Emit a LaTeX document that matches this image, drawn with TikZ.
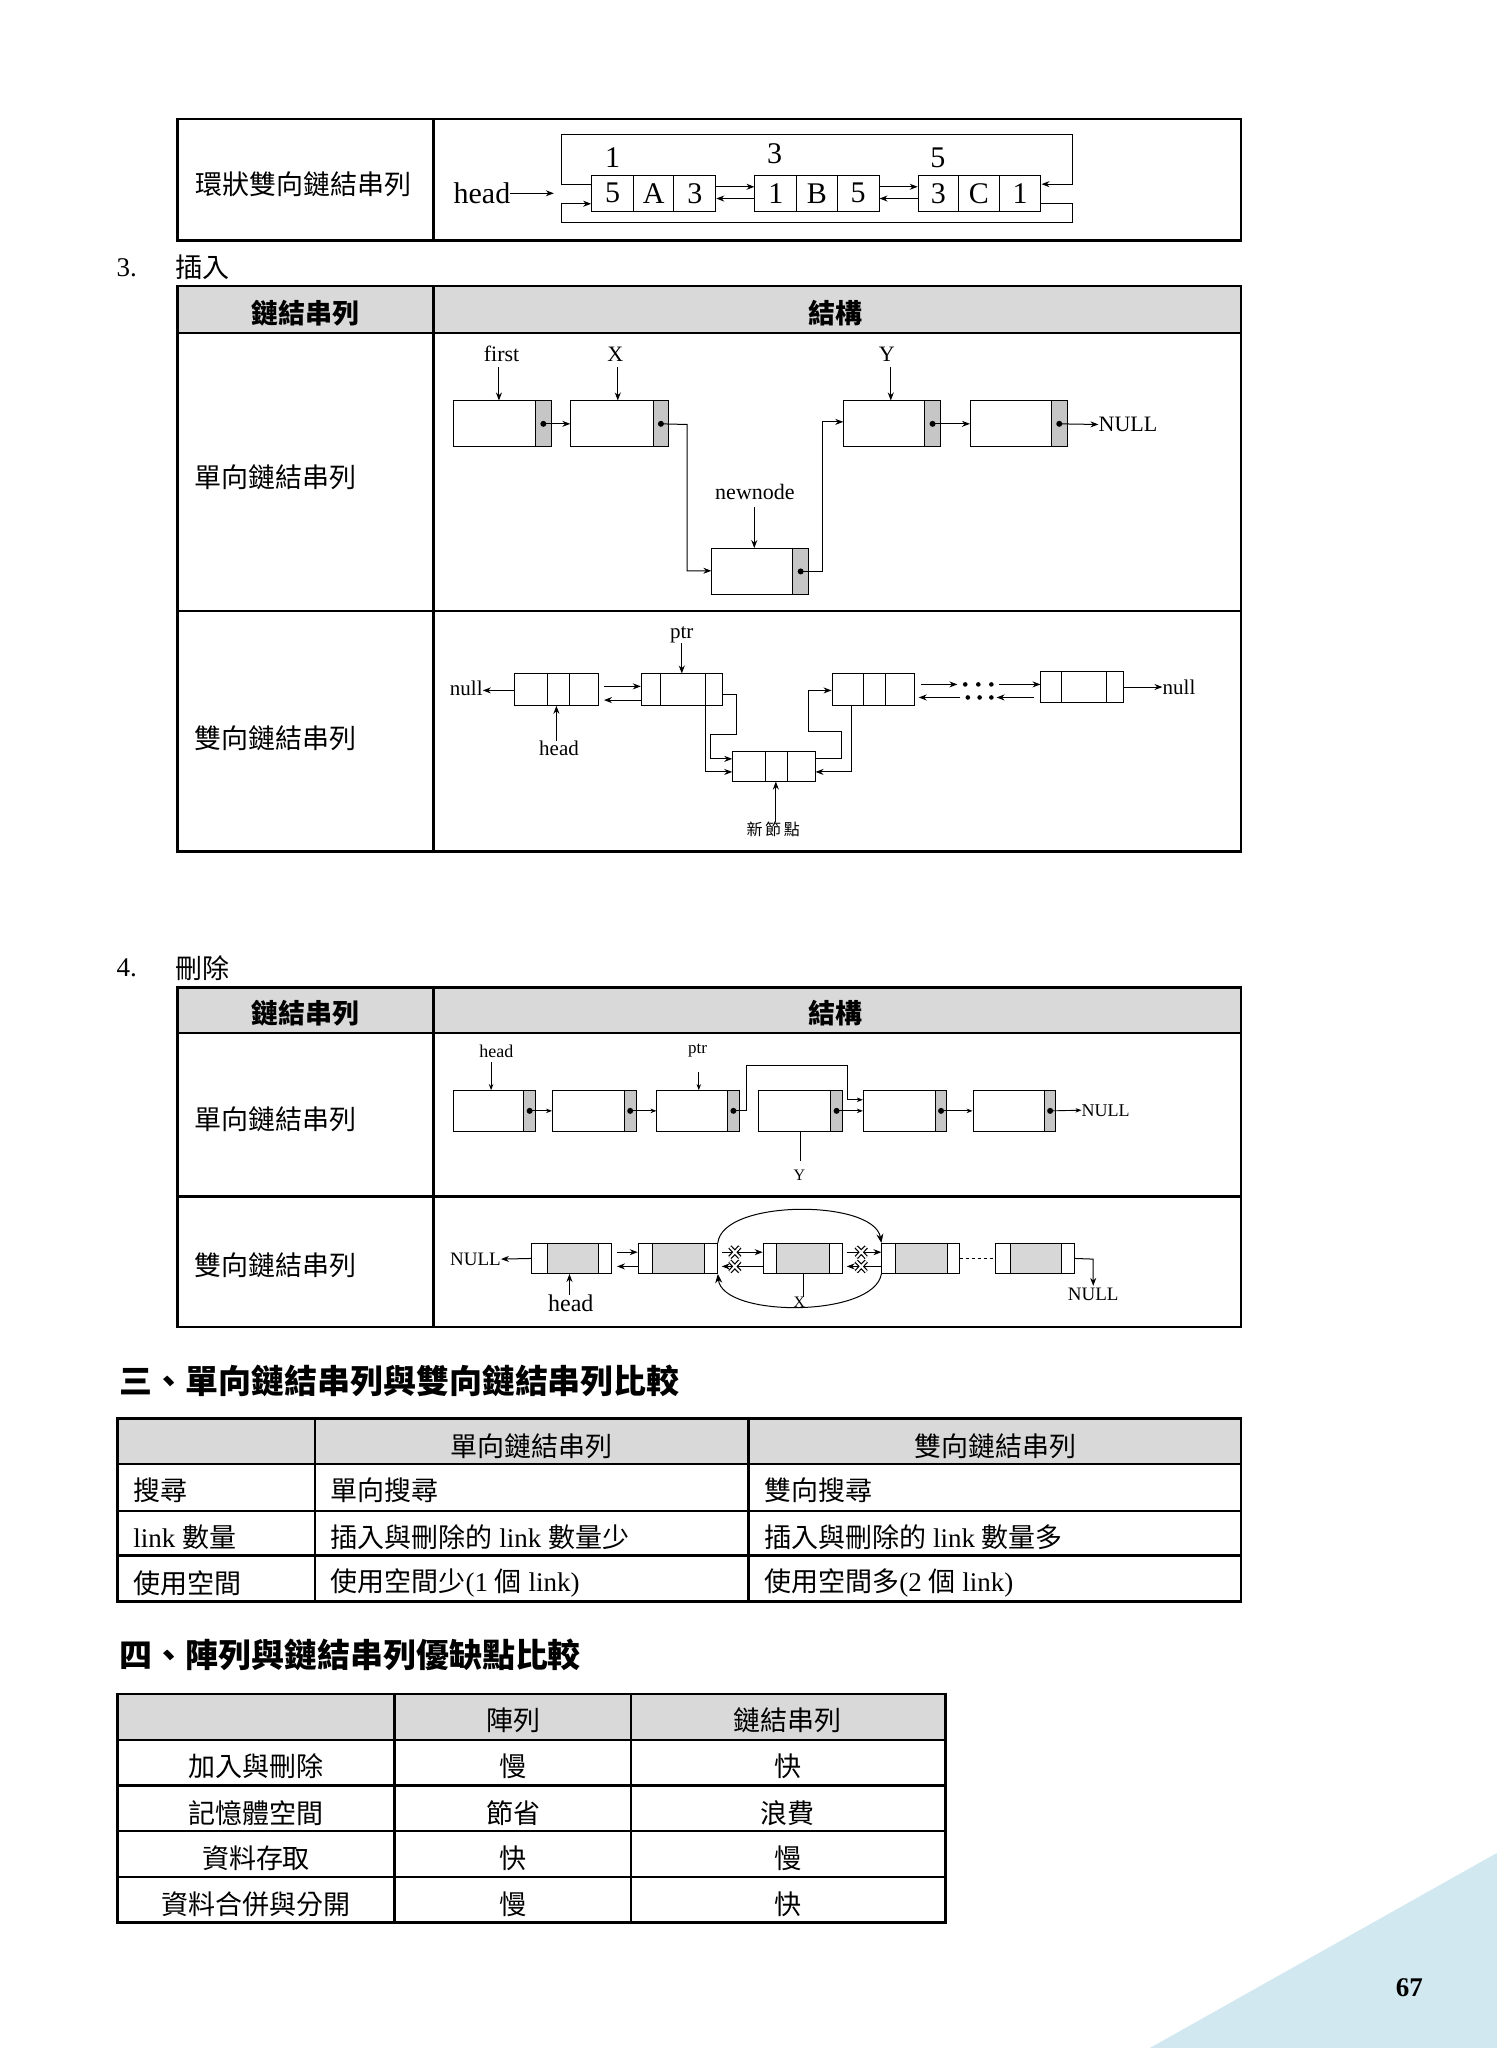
\documentclass[tikz,border=0pt]{standalone}
\usepackage{fontspec}
\setmainfont{Liberation Serif}
\newfontfamily\cjk{Noto Sans CJK TC}
\usetikzlibrary{arrows.meta,fit,calc}
\definecolor{hdrgray}{RGB}{217,217,217}
\definecolor{cellgray}{RGB}{215,215,215}
\definecolor{tri}{RGB}{209,232,240}
\newcommand\C[1]{{\cjk #1}}
% singly node: name x1 y1 x2 y2 xgray
\newcommand\snode[6]{%
  \node[box, fit={(#2,#3) (#4,#5)}] (#1) {};
  \fill[ptrgray] (#6,#3) rectangle (#4,#5);
  \draw[ln] (#6,#3) rectangle (#4,#5);
  \coordinate (#1-d) at ($(#6,#3)!0.5!(#4,#5)$);
  \fill (#1-d) circle[radius=3pt];}
% doubly node: name x1 y1 x2 y2 d1 d2
\newcommand\dcell[7]{%
  \node[box, fit={(#2,#3) (#4,#5)}] (#1) {};
  \draw[ln] (#6,#3) -- (#6,#5) (#7,#3) -- (#7,#5);}
\newcommand\gcell[7]{%
  \node[box, fit={(#2,#3) (#4,#5)}] (#1) {};
  \fill[cellgray] (#6,#3) rectangle (#7,#5);
  \draw[ln] (#2,#3) rectangle (#4,#5) (#6,#3) -- (#6,#5) (#7,#3) -- (#7,#5);}
\newcommand\xmk[2]{%
  \draw[line width=4.4pt] (#1-3.8,#2-4) -- (#1+3.8,#2+4) (#1-3.8,#2+4) -- (#1+3.8,#2-4);
  \draw[white,line width=2pt] (#1-3.8,#2-4) -- (#1+3.8,#2+4) (#1-3.8,#2+4) -- (#1+3.8,#2-4);}
\begin{document}
\begin{tikzpicture}[x=1.3063pt,y=-1.3063pt,
  tbl/.style={line width=2.4pt},
  box/.style={draw, line width=1pt, inner sep=0pt},
  ln/.style={line width=1pt},
  ptrgray/.style={fill=gray!45},
  arr/.style={line width=1pt,-{Stealth[length=8pt,width=6pt]}},
  sarr/.style={line width=0.9pt,-{Stealth[length=6pt,width=4.5pt]}},
  lab/.style={font=\cjk\fontsize{27}{29}\selectfont, inner sep=0pt},
  hdr/.style={font=\cjk\bfseries\fontsize{27}{29}\selectfont, inner sep=0pt},
  ttl/.style={font=\cjk\bfseries\fontsize{33}{35}\selectfont, inner sep=0pt, anchor=west},
  txt/.style={font=\fontsize{27}{29}\selectfont, inner sep=0pt},
  tt/.style={font=\fontsize{#1}{#1}\selectfont, inner sep=0pt},
]
\fill[white] (0,0) rectangle (1146,1568);
\useasboundingbox (0,0) rectangle (1146,1568);
\fill[tri] (880.3,1568) -- (1146,1418.7) -- (1146,1568) -- cycle;
\node[font=\bfseries\fontsize{27}{29}\selectfont] (pg) at (1079,1522) {67};

% ===== top table =====
\draw[tbl] (136,91) rectangle (950,184) (332,91) -- (332,184);
\node[lab] (t0l) at (232,141) {環狀雙向鏈結串列};
\node[tt=30] (hd) at (369,148) {head};
\coordinate (hdend) at (424,148);
\draw[arr] (hd.east) -- (hdend);
\dcell{c1}{453}{134}{548}{162}{485}{516}
\dcell{c2}{578}{134}{673}{162}{610}{641}
\dcell{c3}{703}{134}{797}{162}{734}{765}
\node[tt=30] (c1a) at (469,148) {5};
\node[tt=30] (c1b) at (500.5,148) {A};
\node[tt=30] (c1c) at (532,148) {3};
\node[tt=30] (c2a) at (594,148) {1};
\node[tt=30] (c2b) at (625.5,148) {B};
\node[tt=30] (c2c) at (657,148) {5};
\node[tt=30] (c3a) at (718.5,148) {3};
\node[tt=30] (c3b) at (749.5,148) {C};
\node[tt=30] (c3c) at (781,148) {1};
\node[tt=30] (c1n) at (469,121) {1};
\node[tt=30] (c2n) at (593,118) {3};
\node[tt=30] (c3n) at (718,121) {5};
\draw[arr] (c1.east |- 0,143) -- (c2.west |- 0,143);
\draw[arr] (c2.west |- 0,152) -- (c1.east |- 0,152);
\draw[arr] (c2.east |- 0,143) -- (c3.west |- 0,143);
\draw[arr] (c3.west |- 0,152) -- (c2.east |- 0,152);
\draw[arr] (c1.west |- 0,141) -- (430,141) -- (430,103) -- (821,103) -- (821,141) -- (c3.east |- 0,141);
\draw[arr] (c3.east |- 0,156) -- (821,156) -- (821,170) -- (430,170) -- (430,156) -- (c1.west |- 0,156);

% ===== 3. insert =====
\node[txt] (n3) at (97,205) {3.};
\node[lab] (n3t) at (155,205) {插入};
\fill[hdrgray] (136,219) rectangle (950,255);
\draw[tbl] (136,219) rectangle (950,652) (136,255) -- (950,255) (136,468) -- (950,468) (332,219) -- (332,652);
\node[hdr] (h1a) at (234,240) {鏈結串列};
\node[hdr] (h1b) at (640,240) {結構};
\node[lab] (r1a) at (211,365) {單向鏈結串列};
\node[lab] (r1b) at (211,565) {雙向鏈結串列};

% singly insert
\snode{sa}{347}{307}{422}{342}{410}
\snode{sb}{437}{307}{512}{342}{500}
\snode{sn}{545}{420}{619}{455}{607}
\snode{sc}{646}{307}{720}{342}{708}
\snode{sd}{743}{307}{817}{342}{805}
\draw[arr] (sa-d) -- (sb.west |- sa-d);
\draw[arr] (sb-d) -- (526,325) -- (526,437) -- (sn.west |- 0,437);
\draw[arr] (sn-d) -- (630,437.5) -- (630,323) -- (sc.west |- 0,323);
\draw[arr] (sc-d) -- (sd.west |- sc-d);
\node[tt=22, anchor=west] (snull) at (841,325) {NULL};
\draw[arr] (sd-d) -- (snull.west);
\node[tt=22] (lf) at (384,271) {first};
\node[tt=22] (lx) at (471,271) {X};
\node[tt=22] (ly) at (679,271) {Y};
\node[tt=22] (lnew) at (578,377) {newnode};
\draw[arr] (382,281) -- (sa.north -| 382,0);
\draw[arr] (473,281) -- (sb.north -| 473,0);
\draw[arr] (682,281) -- (sc.north -| 682,0);
\draw[arr] (577.5,388) -- (sn.north -| 577.5,0);

% doubly insert
\dcell{da}{394}{516}{458}{540}{419}{436}
\dcell{db}{491}{516}{553}{540}{506}{540}
\dcell{dc}{637}{516}{700}{540}{661}{678}
\dcell{dd}{797}{514}{860}{538}{813}{847}
\dcell{dn}{561}{575}{624}{598}{586}{603}
\node[tt=21] (nl) at (357,527) {null};
\draw[arr] (da.west |- 0,528.6) -- (nl.east |- 0,528.6);
\draw[arr] ($(da.east |- 0,525.5)+(4,0)$) -- (db.west |- 0,525.5);
\draw[arr] (db.west |- 0,536) -- ($(da.east |- 0,536)+(4,0)$);
\node[tt=21] (dhead) at (428,573) {head};
\draw[arr] (dhead.north -| 426,0) -- (da.south -| 426,0);
\node[tt=21] (dptr) at (522,486) {ptr};
\draw[arr] (dptr.south) -- (dptr.south |- db.north);
\draw[arr] (db.east |- 0,532) -- (564,532) -- (564,562) -- (544,562) -- (544,581) -- (dn.west |- 0,581);
\draw[arr] (db.south -| 540,0) -- (540,591) -- (dn.west |- 0,591);
\draw[arr] (dc.south -| 652,0) -- (652,591) -- (dn.east |- 0,591);
\draw[arr] (dn.east |- 0,581) -- (644,581) -- (644,560) -- (619,560) -- (619,528.6) -- (dc.west |- 0,528.6);
\draw[arr] ($(dc.east |- 0,524)+(5,0)$) -- (733,524);
\draw[arr] (765,524) -- (dd.west |- 0,524);
\draw[arr] ($(dd.west |- 0,534)+(-5,0)$) -- (763,534);
\draw[arr] (735,534) -- ($(dc.east |- 0,534)+(3,0)$);
\foreach \xx in {739,749,759} \fill (\xx,524) circle[radius=2.3pt];
\foreach \xx in {741,750,759} \fill (\xx,534) circle[radius=2.3pt];
\node[tt=21, anchor=west] (nr) at (890,526) {null};
\draw[arr] (dd.east |- 0,526) -- (nr.west);
\node[font=\cjk\fontsize{16}{18}\selectfont, inner sep=0pt] (xin) at (592,635) {新\,節\,點};
\draw[arr] (xin.north -| 594,0) -- (dn.south -| 594,0);

% ===== 4. delete =====
\node[txt] (n4) at (97,741) {4.};
\node[lab] (n4t) at (155,741) {刪除};
\fill[hdrgray] (136,756) rectangle (950,791);
\draw[tbl] (136,756) rectangle (950,1016) (136,791) -- (950,791) (136,916) -- (950,916) (332,756) -- (332,1016);
\node[hdr] (h2a) at (234,776) {鏈結串列};
\node[hdr] (h2b) at (640,776) {結構};
\node[lab] (r2a) at (211,857) {單向鏈結串列};
\node[lab] (r2b) at (211,969) {雙向鏈結串列};

% singly delete
\snode{ea}{347}{835}{410}{866}{401}
\snode{eb}{423}{835}{487}{866}{478}
\snode{ec}{503}{835}{566}{866}{557}
\snode{ed}{581}{835}{645}{866}{636}
\snode{ee}{661}{835}{725}{866}{716}
\snode{ef}{745}{835}{808}{866}{800}
\draw[sarr] (ea-d) -- (eb.west |- ea-d);
\draw[sarr] (eb-d) -- (ec.west |- eb-d);
\draw[sarr] (ec-d) -- (571.5,850.5) -- (571.5,816) -- (649,816) -- (649,842) -- (ee.west |- 0,842);
\draw[sarr] (ed-d) -- (ee.west |- ed-d);
\draw[sarr] (ee-d) -- (ef.west |- ee-d);
\node[tt=18, anchor=west] (enull) at (828,850) {NULL};
\draw[sarr] (ef-d) -- (enull.west);
\node[tt=18] (ehead) at (380,805) {head};
\draw[sarr] (376,813) -- (ea.north -| 376,0);
\node[tt=17] (eptr) at (534,804) {ptr};
\draw[sarr] (535,821) -- (ec.north -| 535,0);
\node[tt=16] (ey) at (612,900) {Y};
\draw[ln] (ed.south -| 613,0) -- (613,889);

% doubly delete
\gcell{fa}{407}{952}{468.5}{975}{419}{458.4}
\gcell{fb}{488.6}{952}{549.2}{975}{499.6}{539.2}
\gcell{fc}{584.3}{952}{644.9}{975}{594.8}{634.8}
\gcell{fd}{675.2}{952}{734.9}{975}{685.3}{725.7}
\gcell{fe}{762}{952}{822.6}{975}{773.3}{812.8}
\node[tt=19] (fnl) at (364,964) {NULL};
\draw[arr] (fa.west) -- (fnl.east);
\draw[arr] ($(fa.east |- 0,958.7)+(3.5,0)$) -- (fb.west |- 0,958.7);
\draw[arr] (fb.west |- 0,969.6) -- ($(fa.east |- 0,969.6)+(3.5,0)$);
\draw[arr] ($(fb.east |- 0,958.7)+(3,0)$) -- (fc.west |- 0,958.7);
\draw[arr] (fc.west |- 0,969.6) -- ($(fb.east |- 0,969.6)+(3,0)$);
\draw[arr] ($(fc.east |- 0,958.7)+(3,0)$) -- (fd.west |- 0,958.7);
\draw[arr] (fd.west |- 0,969.6) -- ($(fc.east |- 0,969.6)+(3,0)$);
\xmk{562.6}{958.7}
\xmk{562.6}{969.6}
\xmk{659.4}{958.7}
\xmk{659.4}{969.6}
\draw[ln, dashed] (fd.east) -- (fe.west);
\node[tt=19] (fnr) at (837,991) {NULL};
\draw[arr, shorten >=2pt] (fe.east) -- (837,964) -- (fnr.north);
\node[tt=24] (fhead) at (437,998) {head};
\draw[arr] (fhead.north -| 436,0) -- (fa.south -| 436,0);
\node[tt=16] (fx) at (612,997) {X};
\draw[ln] (fc.south -| 615,0) -- (fx.north -| 615,0);
\draw[line width=1pt,-{Stealth[length=9pt,width=7pt]}] (fb.north east) .. controls (553,918) and (669,918) .. (fd.north west);
\draw[line width=1pt,-{Stealth[length=9pt,width=7pt]}] (fd.south west) .. controls (669,1009) and (553,1009) .. (fb.south east);

% ===== section 3 =====
\node[ttl] (s3) at (91,1057) {三、單向鏈結串列與雙向鏈結串列比較};
\fill[hdrgray] (90,1086) rectangle (950,1121);
\draw[tbl] (90,1086) rectangle (950,1226) (90,1121) -- (950,1121) (90,1157) -- (950,1157) (90,1191) -- (950,1191) (241,1086) -- (241,1226) (573,1086) -- (573,1226);
\node[lab] (k1) at (407,1107) {單向鏈結串列};
\node[lab] (k2) at (762,1107) {雙向鏈結串列};
\node[txt, anchor=west] (k3) at (102,1141) {\C{搜尋}};
\node[txt, anchor=west] (k4) at (253,1141) {\C{單向搜尋}};
\node[txt, anchor=west] (k5) at (585,1141) {\C{雙向搜尋}};
\node[txt, anchor=west] (k6) at (102,1177) {link \C{數量}};
\node[txt, anchor=west] (k7) at (253,1177) {\C{插入與刪除的} link \C{數量少}};
\node[txt, anchor=west] (k8) at (585,1177) {\C{插入與刪除的} link \C{數量多}};
\node[txt, anchor=west] (k9) at (102,1212) {\C{使用空間}};
\node[txt, anchor=west] (k10) at (253,1212) {\C{使用空間少}(1 \C{個} link)};
\node[txt, anchor=west] (k11) at (585,1212) {\C{使用空間多}(2 \C{個} link)};

% ===== section 4 =====
\node[ttl] (s4) at (91,1267) {四、陣列與鏈結串列優缺點比較};
\fill[hdrgray] (90,1297) rectangle (724,1332);
\draw[tbl] (90,1297) rectangle (724,1472) (90,1332) -- (724,1332) (90,1367) -- (724,1367) (90,1402) -- (724,1402) (90,1437) -- (724,1437) (302,1297) -- (302,1472) (483,1297) -- (483,1472);
\node[lab] (m1) at (393,1317) {陣列};
\node[lab] (m2) at (603,1317) {鏈結串列};
\node[lab] (m3) at (196,1352) {加入與刪除};
\node[lab] (m4) at (393,1352) {慢};
\node[lab] (m5) at (603,1352) {快};
\node[lab] (m6) at (196,1388) {記憶體空間};
\node[lab] (m7) at (393,1388) {節省};
\node[lab] (m8) at (603,1388) {浪費};
\node[lab] (m9) at (196,1423) {資料存取};
\node[lab] (m10) at (393,1423) {快};
\node[lab] (m11) at (603,1423) {慢};
\node[lab] (m12) at (196,1458) {資料合併與分開};
\node[lab] (m13) at (393,1458) {慢};
\node[lab] (m14) at (603,1458) {快};
\end{tikzpicture}
\end{document}
